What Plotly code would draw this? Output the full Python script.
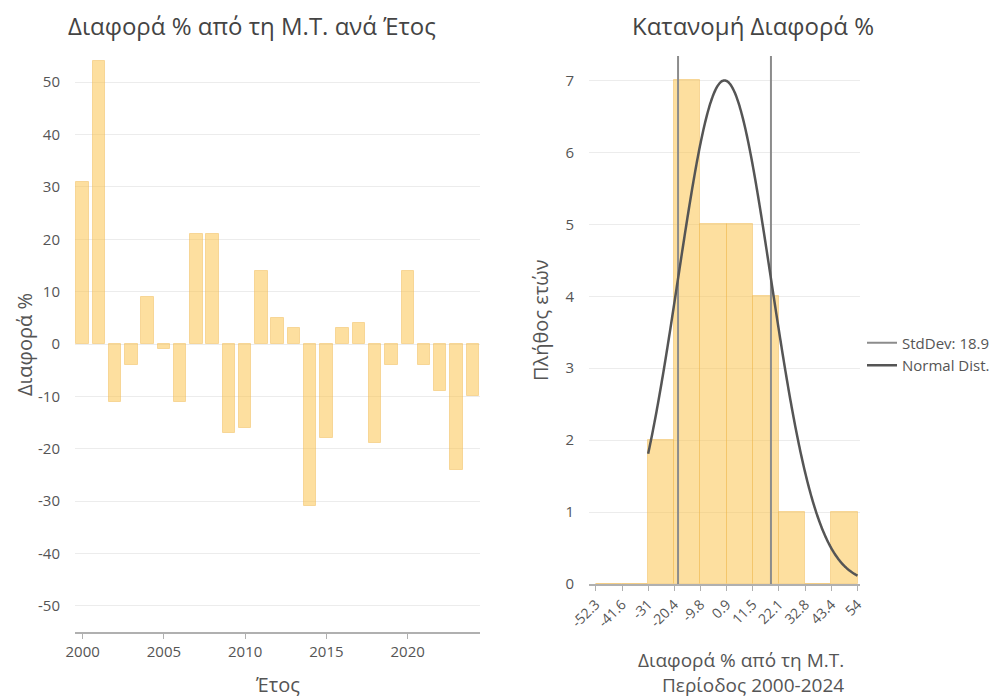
"""Yearly % difference from the mean, plus its distribution."""

import numpy as np
import plotly.graph_objects as go

years = list(range(2000, 2025))
diff_pct = [31, 54, -11, -4, 9, -1, -11, 21, 21, -17, -16, 14, 5, 3, -31,
            -18, 3, 4, -19, -4, 14, -4, -9, -24, -10]

bin_edges = [-52.3, -41.6, -31, -20.4, -9.8, 0.9, 11.5, 22.1, 32.8, 43.4, 54]
bin_counts = [0, 0, 2, 7, 5, 5, 4, 1, 0, 1]

std_label = 'StdDev: 18.9'
curve_peak = 7

BAR_FILL = 'rgba(252,196,80,0.55)'
BAR_LINE = 'rgba(240,185,80,0.45)'
TEXT = '#555555'
TITLE = '#444444'
FONT = 'Open Sans, Noto Sans, sans-serif'

# the page body has an 8px margin, so the figure is drawn 8px in and 8px down
OFF = 8
W, H = 998 - OFF, 700 - OFF
L, R, T, B = 75 - OFF, 138, 56 - OFF, 68      # plot area = 75..860 x 56..632 on screen
PW, PH = W - L - R, H - T - B


def px(x, y):
    """Screen pixel position -> paper coordinates."""
    return (x - OFF - L) / PW, (H - B - (y - OFF)) / PH


data = np.array(diff_pct, dtype=float)
mean = data.mean()
std = data.std(ddof=1)

centers = [(a + b) / 2 for a, b in zip(bin_edges[:-1], bin_edges[1:])]
widths = [b - a for a, b in zip(bin_edges[:-1], bin_edges[1:])]

curve_x = np.linspace(data.min(), data.max(), 300)
curve_y = curve_peak * np.exp(-(curve_x - mean) ** 2 / (2 * std ** 2))

fig = go.Figure()

fig.add_trace(go.Bar(
    x=years, y=diff_pct, width=0.76,
    marker=dict(color=BAR_FILL, line=dict(color=BAR_LINE, width=1)),
    showlegend=False, xaxis='x', yaxis='y'
))

fig.add_trace(go.Bar(
    x=centers, y=bin_counts, width=widths,
    marker=dict(color=BAR_FILL, line=dict(color=BAR_LINE, width=1)),
    showlegend=False, xaxis='x2', yaxis='y2'
))

fig.add_trace(go.Scatter(
    x=[mean - std, mean - std, None, mean + std, mean + std],
    y=[0, 7.4, None, 0, 7.4],
    mode='lines', line=dict(color='#8c8c8c', width=2),
    name=std_label, xaxis='x2', yaxis='y2'
))

fig.add_trace(go.Scatter(
    x=curve_x, y=curve_y,
    mode='lines', line=dict(color='#555555', width=2.5, shape='spline'),
    name='Normal Dist.', xaxis='x2', yaxis='y2'
))

axis_font = dict(family=FONT, size=15, color=TEXT)
left_ticks = list(range(-50, 51, 10))


def annot(text, x, y, size=20, color=TEXT, **kw):
    ax, ay = px(x, y)
    opts = dict(xanchor='center', yanchor='middle')
    opts.update(kw)
    return dict(text=text, x=ax, y=ay, xref='paper', yref='paper',
                showarrow=False, font=dict(family=FONT, size=size, color=color),
                **opts)


lx0, _ = px(75, 0)
lx1, _ = px(480, 0)
rx0, _ = px(589, 0)
rx1, _ = px(860, 0)
_, ry0 = px(0, 584)

fig.update_layout(
    width=W, height=H,
    margin=dict(l=L, r=R, t=T, b=B, autoexpand=False),
    plot_bgcolor='white', paper_bgcolor='white',
    font=dict(family=FONT, color=TEXT),
    bargap=0,
    xaxis=dict(domain=[lx0, lx1], range=[1999.53, 2024.45], automargin=False,
               tickvals=[2000, 2005, 2010, 2015, 2020], tickfont=axis_font,
               showgrid=False, zeroline=False, showline=True,
               linecolor='#b0b0b0', linewidth=1.5, ticks='outside',
               ticklen=5, tickcolor='#b0b0b0'),
    yaxis=dict(domain=[0, 1], range=[-55, 55], anchor='x', automargin=False,
               tickvals=left_ticks, ticktext=[str(v) for v in left_ticks],
               tickfont=axis_font, gridcolor='#ececec', zeroline=False,
               showline=False, ticklabelstandoff=14),
    xaxis2=dict(domain=[rx0, rx1], range=[-55, 55], anchor='y2', automargin=False,
                tickvals=bin_edges, ticktext=[f'{v:g}' for v in bin_edges],
                tickangle=-45, tickfont=dict(family=FONT, size=14, color=TEXT),
                showgrid=False, zeroline=False, showline=True,
                linecolor='#b0b0b0', linewidth=1.5, ticks='outside',
                ticklen=5, tickcolor='#b0b0b0'),
    yaxis2=dict(domain=[ry0, 1], range=[0, 7.34], anchor='x2', automargin=False,
                tickvals=list(range(0, 8)), tickfont=axis_font,
                gridcolor='#ececec', zeroline=False, showline=False,
                ticklabelstandoff=14),
    legend=dict(x=px(862, 0)[0], y=px(0, 354)[1], xanchor='left', yanchor='middle',
                font=dict(family=FONT, size=15, color=TEXT),
                itemwidth=30, tracegroupgap=4),
    annotations=[
        annot('Διαφορά % από τη Μ.Τ. ανά Έτος', 252, 25, size=24, color=TITLE),
        annot('Κατανομή Διαφορά %', 753, 25, size=24, color=TITLE),
        annot('Διαφορά %', 24, 345, textangle=-90),
        annot('Πλήθος ετών', 540, 320, textangle=-90),
        annot('Έτος', 277, 684),
        annot('Διαφορά % από τη Μ.Τ.<br>Περίοδος 2000-2024', 846, 672,
              xanchor='right', align='right', size=19),
    ],
)

fig.write_html("out.html")
